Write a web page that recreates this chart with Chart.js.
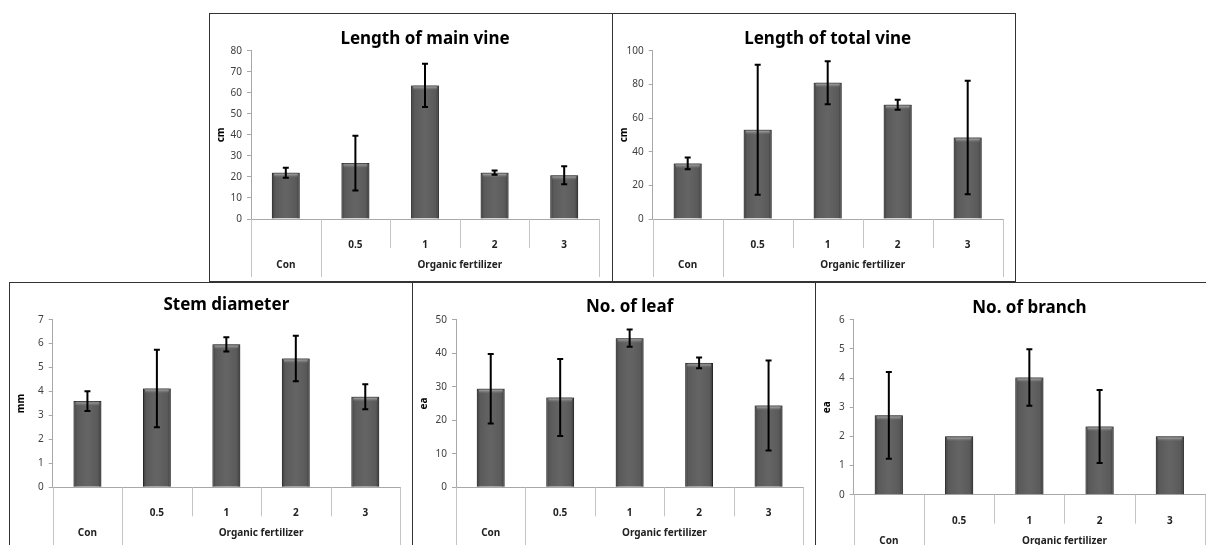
<!DOCTYPE html>
<html>
<head>
<meta charset="utf-8">
<script src="https://cdn.jsdelivr.net/npm/chart.js@4.4.0/dist/chart.umd.min.js"></script>
<style>
  body { margin: 0; background: #fff; width: 1206px; height: 545px; overflow: hidden; position: relative; }
  .panel { position: absolute; border: 1px solid #333; background: #fff; }
  .panel canvas { display: block; }
</style>
</head>
<body>
<div class="panel" style="left:209px;top:13px"><canvas id="c1" width="402" height="267"></canvas></div>
<div class="panel" style="left:612px;top:13px"><canvas id="c2" width="402" height="267"></canvas></div>
<div class="panel" style="left:9px;top:282px"><canvas id="c3" width="402" height="268"></canvas></div>
<div class="panel" style="left:412px;top:282px"><canvas id="c4" width="402" height="268"></canvas></div>
<div class="panel" style="left:815px;top:282px"><canvas id="c5" width="402" height="268"></canvas></div>
<script>
// categories
const doses = ['', '0.5', '1', '2', '3'];
const groupNames = ['Con', 'Organic fertilizer'];
const groupSizes = [1, 4];

// means and error (+/-) per treatment
const mainVine = [22.0, 26.6, 63.5, 22.0, 20.8];
const mainVineErr = [2.4, 13.0, 10.3, 1.0, 4.3];
const totalVine = [33.0, 53.0, 81.0, 67.9, 48.4];
const totalVineErr = [3.5, 38.6, 12.8, 3.0, 33.7];
const stemDia = [3.60, 4.13, 5.97, 5.38, 3.78];
const stemDiaErr = [0.41, 1.62, 0.30, 0.95, 0.52];
const leafNo = [29.4, 26.8, 44.5, 37.1, 24.4];
const leafNoErr = [10.4, 11.5, 2.6, 1.6, 13.4];
const branchNo = [2.72, 2.0, 4.02, 2.34, 2.0];
const branchNoErr = [1.49, 0, 0.97, 1.25, 0];

const FONT = "'Noto Sans', 'DejaVu Sans', sans-serif";

// layout of each panel (canvas px): plot = [left, top, right, bottom]
const panels = [
  { id: 'c1', title: 'Length of main vine', unit: 'cm', values: mainVine, errors: mainVineErr, max: 80, step: 10, plot: [41, 36.7, 389, 205], titleY: 25.5 },
  { id: 'c2', title: 'Length of total vine', unit: 'cm', values: totalVine, errors: totalVineErr, max: 100, step: 20, plot: [39.7, 36.7, 389.7, 205], titleY: 25.5 },
  { id: 'c3', title: 'Stem diameter', unit: 'mm', values: stemDia, errors: stemDiaErr, max: 7, step: 1, plot: [42.7, 36.7, 390, 204.3], titleY: 21.7 },
  { id: 'c4', title: 'No. of leaf', unit: 'ea', values: leafNo, errors: leafNoErr, max: 50, step: 10, plot: [43, 36.7, 390.3, 204.3], titleY: 24.3 },
  { id: 'c5', title: 'No. of branch', unit: 'ea', values: branchNo, errors: branchNoErr, max: 6, step: 1, plot: [37.7, 36.7, 389, 211.7], titleY: 25 }
];

// bevel shading on bars + error bars
const barLook = {
  id: 'barLook',
  afterDatasetsDraw(chart, args, opts) {
    const ctx = chart.ctx;
    const meta = chart.getDatasetMeta(0);
    const yScale = chart.scales.y;
    ctx.save();
    meta.data.forEach((bar, i) => {
      const p = bar.getProps(['x', 'y', 'base', 'width'], true);
      const left = p.x - p.width / 2;
      const g = ctx.createLinearGradient(left, 0, left + p.width, 0);
      g.addColorStop(0, 'rgba(0,0,0,0.35)');
      g.addColorStop(0.12, 'rgba(0,0,0,0.05)');
      g.addColorStop(0.5, 'rgba(255,255,255,0.04)');
      g.addColorStop(0.88, 'rgba(0,0,0,0.05)');
      g.addColorStop(1, 'rgba(0,0,0,0.4)');
      ctx.fillStyle = g;
      ctx.fillRect(left, p.y, p.width, p.base - p.y);
      const h = ctx.createLinearGradient(0, p.y, 0, p.y + 5);
      h.addColorStop(0, 'rgba(60,60,60,0.6)');
      h.addColorStop(0.35, 'rgba(170,170,170,0.7)');
      h.addColorStop(1, 'rgba(120,120,120,0)');
      ctx.fillStyle = h;
      ctx.fillRect(left + 2, p.y, p.width - 4, 5);

      const err = opts.errors[i];
      if (!err) return;
      const v = opts.values[i];
      const yHi = yScale.getPixelForValue(v + err);
      const yLo = yScale.getPixelForValue(v - err);
      ctx.strokeStyle = '#000';
      ctx.lineWidth = 2;
      ctx.beginPath();
      ctx.moveTo(p.x, yHi); ctx.lineTo(p.x, yLo);
      ctx.moveTo(p.x - 3, yHi); ctx.lineTo(p.x + 3, yHi);
      ctx.moveTo(p.x - 3, yLo); ctx.lineTo(p.x + 3, yLo);
      ctx.stroke();
    });
    ctx.restore();
  }
};

// two-level category axis grid (Excel style)
const groupAxis = {
  id: 'groupAxis',
  afterDraw(chart) {
    const ctx = chart.ctx;
    const x = chart.scales.x;
    const bottom = chart.chartArea.bottom;
    const half = (x.getPixelForValue(1) - x.getPixelForValue(0)) / 2;
    ctx.save();
    ctx.strokeStyle = '#c4c4c4';
    ctx.lineWidth = 1;
    // group boundaries
    const edges = [0];
    groupSizes.forEach(n => edges.push(edges[edges.length - 1] + n));
    ctx.beginPath();
    for (let i = 1; i < doses.length; i++) {
      if (edges.includes(i)) continue;
      const px = Math.round(x.getPixelForValue(i) - half) + 0.5;
      ctx.moveTo(px, bottom); ctx.lineTo(px, bottom + 29);
    }
    edges.forEach(e => {
      const px = Math.round(x.getPixelForValue(e) - half) + 0.5;
      ctx.moveTo(px, bottom); ctx.lineTo(px, bottom + 58);
    });
    ctx.stroke();
    ctx.fillStyle = '#222';
    ctx.font = 'bold 10px ' + FONT;
    ctx.textAlign = 'center';
    ctx.textBaseline = 'middle';
    groupNames.forEach((name, g) => {
      const a = x.getPixelForValue(edges[g]) - half;
      const b = x.getPixelForValue(edges[g + 1]) - half;
      ctx.fillText(name, (a + b) / 2, bottom + 46);
    });
    ctx.restore();
  }
};

panels.forEach(pc => {
  const canvas = document.getElementById(pc.id);
  const W = canvas.width, H = canvas.height;
  const [pl, pt, pr, pb] = pc.plot;
  new Chart(canvas, {
    type: 'bar',
    data: {
      labels: doses,
      datasets: [{
        data: pc.values,
        backgroundColor: '#5e5e5e',
        borderColor: '#3a3a3a',
        borderWidth: 1,
        barPercentage: 0.4,
        categoryPercentage: 1
      }]
    },
    options: {
      responsive: false,
      animation: false,
      layout: { padding: { left: 0, top: 0, right: W - pr, bottom: 0 } },
      plugins: {
        legend: { display: false },
        tooltip: { enabled: false },
        title: {
          display: true,
          text: pc.title,
          fullSize: false,
          color: '#000',
          font: { family: FONT, size: 17, weight: 'bold', lineHeight: 1.2 },
          padding: { top: pc.titleY - 10.2, bottom: pt - pc.titleY - 10.2 }
        },
        barLook: { values: pc.values, errors: pc.errors }
      },
      scales: {
        x: {
          grid: { display: false },
          border: { display: true, color: '#a8a8a8' },
          ticks: { color: '#222', padding: 12, font: { family: FONT, size: 10, weight: 'bold' } },
          afterFit(scale) { scale.height = H - pb; }
        },
        y: {
          min: 0,
          max: pc.max,
          ticks: { stepSize: pc.step, color: '#404040', padding: 5, font: { family: FONT, size: 10 } },
          grid: { drawOnChartArea: false, drawTicks: true, tickLength: 4, color: '#a8a8a8' },
          border: { display: true, color: '#a8a8a8' },
          title: {
            display: true,
            text: pc.unit,
            color: '#000',
            padding: { top: 5, bottom: 0 },
            font: { family: FONT, size: 10, weight: 'bold' }
          },
          afterFit(scale) { scale.width = pl; }
        }
      }
    },
    plugins: [barLook, groupAxis]
  });
});
</script>
</body>
</html>
